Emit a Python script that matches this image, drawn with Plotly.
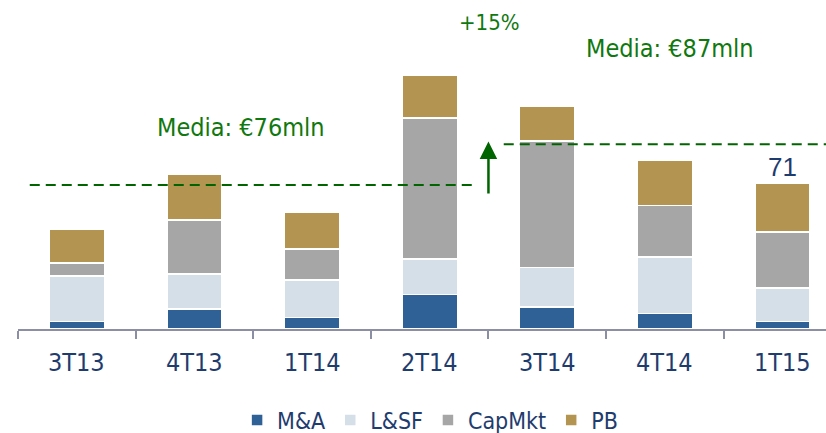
import plotly.graph_objects as go

# quarters and revenue split (EUR mln)
quarters = ['3T13', '4T13', '1T14', '2T14', '3T14', '4T14', '1T15']
ma = [3.6, 9.7, 5.5, 16.7, 10.6, 7.5, 3.6]
lsf = [22.3, 17.2, 18.4, 17.3, 19.4, 27.5, 16.4]
capmkt = [6.2, 26.3, 15.1, 68.8, 61.6, 25.2, 27.2]
pb = [16.7, 22.0, 17.9, 21.0, 16.8, 22.0, 23.8]

# average lines as drawn on the slide
avg_levels = [70.2, 90.0]
avg_labels = ['Media: €76mln', 'Media: €87mln']

series = [
    ('M&A', ma, '#2f6096'),
    ('L&SF', lsf, '#d5dfe8'),
    ('CapMkt', capmkt, '#a6a6a6'),
    ('PB', pb, '#b39551'),
]

GREEN = '#0f780f'
NAVY = '#1f3c6e'
FONT = 'DejaVu Sans Condensed, DejaVu Sans, sans-serif'

fig = go.Figure()
for name, vals, color in series:
    fig.add_trace(go.Bar(
        x=quarters,
        y=vals,
        name=name,
        width=0.47,
        marker=dict(color=color, line=dict(color='white', width=1.5)),
    ))

totals = [a + b + c + d for a, b, c, d in zip(ma, lsf, capmkt, pb)]

# dashed average lines
fig.add_shape(type='line', x0=-0.4, x1=3.36, y0=avg_levels[0], y1=avg_levels[0],
              line=dict(color='#006400', width=2, dash='10px,6px'))
fig.add_shape(type='line', x0=3.63, x1=6.4, y0=avg_levels[1], y1=avg_levels[1],
              line=dict(color='#006400', width=2, dash='10px,6px'))

# growth arrow
fig.add_annotation(x=3.5, y=91.3, ax=3.5, ay=65.3, xref='x', yref='y',
                   axref='x', ayref='y', text='', showarrow=True,
                   arrowhead=2, arrowsize=1.4, arrowwidth=2.5, arrowcolor='#006400')

fig.add_annotation(x=1.396, y=98.4, text=avg_labels[0], showarrow=False,
                   font=dict(size=25, color=GREEN, family=FONT))
fig.add_annotation(x=5.044, y=136.5, text=avg_labels[1], showarrow=False,
                   font=dict(size=25, color=GREEN, family=FONT))
fig.add_annotation(x=3.513, y=149.1, text='+15%', showarrow=False,
                   font=dict(size=22, color=GREEN, family=FONT))
fig.add_annotation(x=6, y=totals[-1], text=f'{totals[-1]:.0f}', showarrow=False,
                   yanchor='bottom', yshift=-1,
                   font=dict(size=26, color=NAVY, family='Liberation Sans, Arial'))

# category labels (placed a bit lower than plotly's default tick labels)
for q in quarters:
    fig.add_annotation(x=q, y=0, xref='x', yref='paper', text=q, showarrow=False,
                       yanchor='middle', yshift=-33,
                       font=dict(size=25, color=NAVY, family=FONT))

fig.update_layout(
    barmode='stack',
    width=826,
    height=433,
    paper_bgcolor='white',
    plot_bgcolor='white',
    margin=dict(l=18, r=0, t=0, b=104, autoexpand=False),
    font=dict(family=FONT, color=NAVY),
    xaxis=dict(
        type='category',
        range=[-0.5, 6.37],
        tickson='boundaries',
        ticks='outside',
        ticklen=8,
        tickwidth=2,
        tickcolor='#8c8fa3',
        showline=True,
        linecolor='#8c8fa3',
        linewidth=2,
        showgrid=False,
        zeroline=False,
        showticklabels=False,
    ),
    yaxis=dict(
        range=[0, 160.3],
        visible=False,
        showgrid=False,
        zeroline=False,
    ),
    showlegend=True,
    legend=dict(
        orientation='h',
        x=0.51,
        xanchor='center',
        yref='container',
        y=0.03,
        yanchor='middle',
        font=dict(size=23, color=NAVY, family=FONT),
        itemwidth=30,
        traceorder='normal',
    ),
)

fig.write_html('out.html', config={'displayModeBar': False},
               post_script="document.body.style.margin='0';")
